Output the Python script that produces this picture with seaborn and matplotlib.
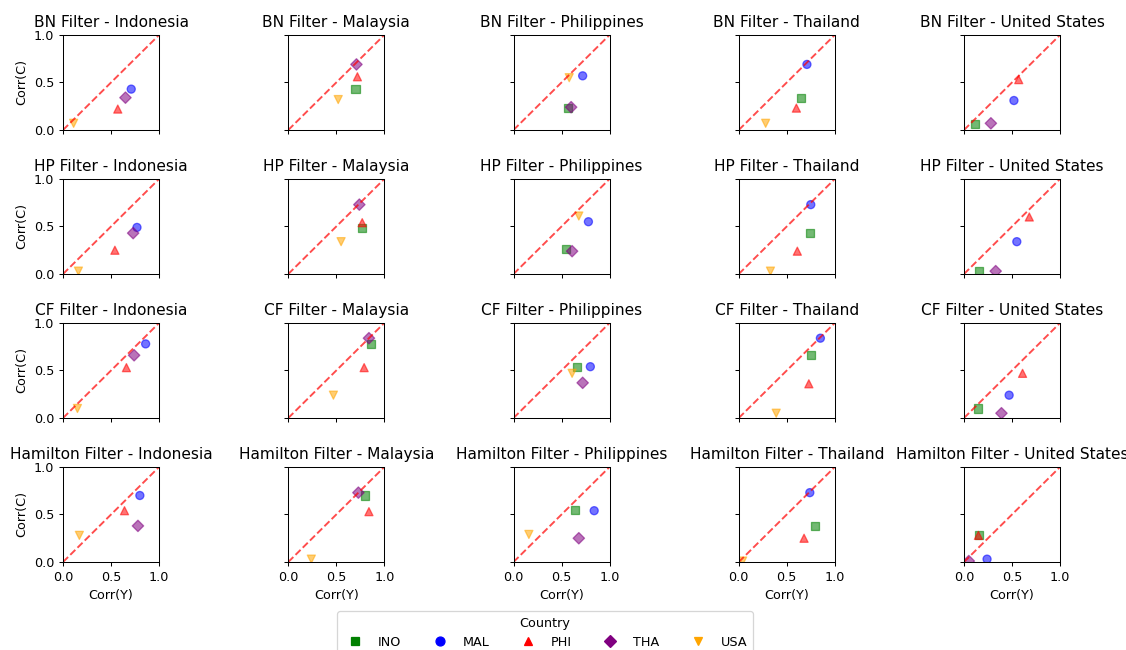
import matplotlib
matplotlib.use("Agg")
import matplotlib.pyplot as plt
from matplotlib.lines import Line2D
import seaborn as sns
import pandas as pd

filters = ["BN Filter", "HP Filter", "CF Filter", "Hamilton Filter"]
countries = ["Indonesia", "Malaysia", "Philippines", "Thailand", "United States"]
codes = ["INO", "MAL", "PHI", "THA", "USA"]

# Output (Y) and consumption (C) cross-country correlations.
# For each filter and home country: {partner code: (Corr(Y), Corr(C))}
bn_filter = {
    "Indonesia": {"MAL": (0.71, 0.43), "PHI": (0.57, 0.22), "THA": (0.65, 0.34), "USA": (0.11, 0.07)},
    "Malaysia": {"INO": (0.70, 0.43), "PHI": (0.72, 0.56), "THA": (0.71, 0.69), "USA": (0.52, 0.32)},
    "Philippines": {"INO": (0.57, 0.23), "MAL": (0.72, 0.57), "THA": (0.60, 0.24), "USA": (0.58, 0.55)},
    "Thailand": {"INO": (0.65, 0.34), "MAL": (0.71, 0.69), "PHI": (0.60, 0.23), "USA": (0.28, 0.07)},
    "United States": {"INO": (0.11, 0.06), "MAL": (0.52, 0.31), "PHI": (0.57, 0.53), "THA": (0.28, 0.07)},
}
hp_filter = {
    "Indonesia": {"MAL": (0.77, 0.49), "PHI": (0.54, 0.25), "THA": (0.73, 0.43), "USA": (0.16, 0.03)},
    "Malaysia": {"INO": (0.77, 0.48), "PHI": (0.77, 0.54), "THA": (0.74, 0.73), "USA": (0.55, 0.34)},
    "Philippines": {"INO": (0.55, 0.26), "MAL": (0.78, 0.55), "THA": (0.61, 0.24), "USA": (0.68, 0.61)},
    "Thailand": {"INO": (0.74, 0.43), "MAL": (0.75, 0.73), "PHI": (0.61, 0.24), "USA": (0.33, 0.03)},
    "United States": {"INO": (0.16, 0.03), "MAL": (0.55, 0.34), "PHI": (0.68, 0.60), "THA": (0.33, 0.03)},
}
cf_filter = {
    "Indonesia": {"MAL": (0.86, 0.78), "PHI": (0.66, 0.53), "THA": (0.74, 0.66), "USA": (0.15, 0.10)},
    "Malaysia": {"INO": (0.86, 0.78), "PHI": (0.79, 0.53), "THA": (0.84, 0.84), "USA": (0.47, 0.24)},
    "Philippines": {"INO": (0.66, 0.54), "MAL": (0.80, 0.54), "THA": (0.72, 0.37), "USA": (0.61, 0.47)},
    "Thailand": {"INO": (0.75, 0.66), "MAL": (0.85, 0.84), "PHI": (0.73, 0.36), "USA": (0.39, 0.05)},
    "United States": {"INO": (0.15, 0.10), "MAL": (0.47, 0.24), "PHI": (0.61, 0.47), "THA": (0.39, 0.05)},
}
hamilton_filter = {
    "Indonesia": {"MAL": (0.80, 0.70), "PHI": (0.64, 0.54), "THA": (0.78, 0.38), "USA": (0.17, 0.28)},
    "Malaysia": {"INO": (0.80, 0.70), "PHI": (0.84, 0.53), "THA": (0.73, 0.73), "USA": (0.24, 0.03)},
    "Philippines": {"INO": (0.64, 0.55), "MAL": (0.84, 0.54), "THA": (0.68, 0.25), "USA": (0.16, 0.29)},
    "Thailand": {"INO": (0.79, 0.38), "MAL": (0.74, 0.73), "PHI": (0.68, 0.25), "USA": (0.04, 0.01)},
    "United States": {"INO": (0.16, 0.28), "MAL": (0.24, 0.03), "PHI": (0.15, 0.28), "THA": (0.05, 0.01)},
}
filter_data = [bn_filter, hp_filter, cf_filter, hamilton_filter]

palette = {"INO": "green", "MAL": "blue", "PHI": "red", "THA": "purple", "USA": "orange"}
markers = {"INO": "s", "MAL": "o", "PHI": "^", "THA": "D", "USA": "v"}

rows = []
for fname, fdata in zip(filters, filter_data):
    for home in countries:
        for code, (cy, cc) in fdata[home].items():
            rows.append({"Filter": fname, "Home": home, "Country": code,
                         "CorrY": cy, "CorrC": cc})
df = pd.DataFrame(rows)

DPI = 92
fig, axes = plt.subplots(4, 5, figsize=(1126 / DPI, 650 / DPI), dpi=DPI,
                         sharex=True, sharey=True)
fig.subplots_adjust(left=0.056, right=0.9414, top=0.9462, bottom=0.1354,
                    wspace=1.346, hspace=0.516)

for i, fname in enumerate(filters):
    for j, home in enumerate(countries):
        ax = axes[i, j]
        sub = df[(df["Filter"] == fname) & (df["Home"] == home)]
        sns.scatterplot(data=sub, x="CorrY", y="CorrC", hue="Country", style="Country",
                        palette=palette, markers=markers, s=40, alpha=0.55,
                        edgecolor="face", linewidth=1, legend=False, ax=ax)
        ax.plot([0, 1], [0, 1], "r--", alpha=0.7, linewidth=1.5)
        ax.set_xlim(0, 1)
        ax.set_ylim(0, 1)
        ax.set_xticks([0, 0.5, 1.0])
        ax.set_yticks([0, 0.5, 1.0])
        ax.set_title(f"{fname} - {home}")
        ax.set_xlabel("Corr(Y)")
        ax.set_ylabel("Corr(C)")
        ax.tick_params(labelbottom=(i == 3), labelleft=(j == 0))

handles = [Line2D([], [], linestyle="none", marker=markers[c], color=palette[c],
                  markersize=7, label=c) for c in codes]
fig.legend(handles=handles, title="Country", ncol=5, loc="upper center",
           bbox_to_anchor=(545 / 1126, 1 - 605 / 650))

fig.savefig("out.png", dpi=DPI)
